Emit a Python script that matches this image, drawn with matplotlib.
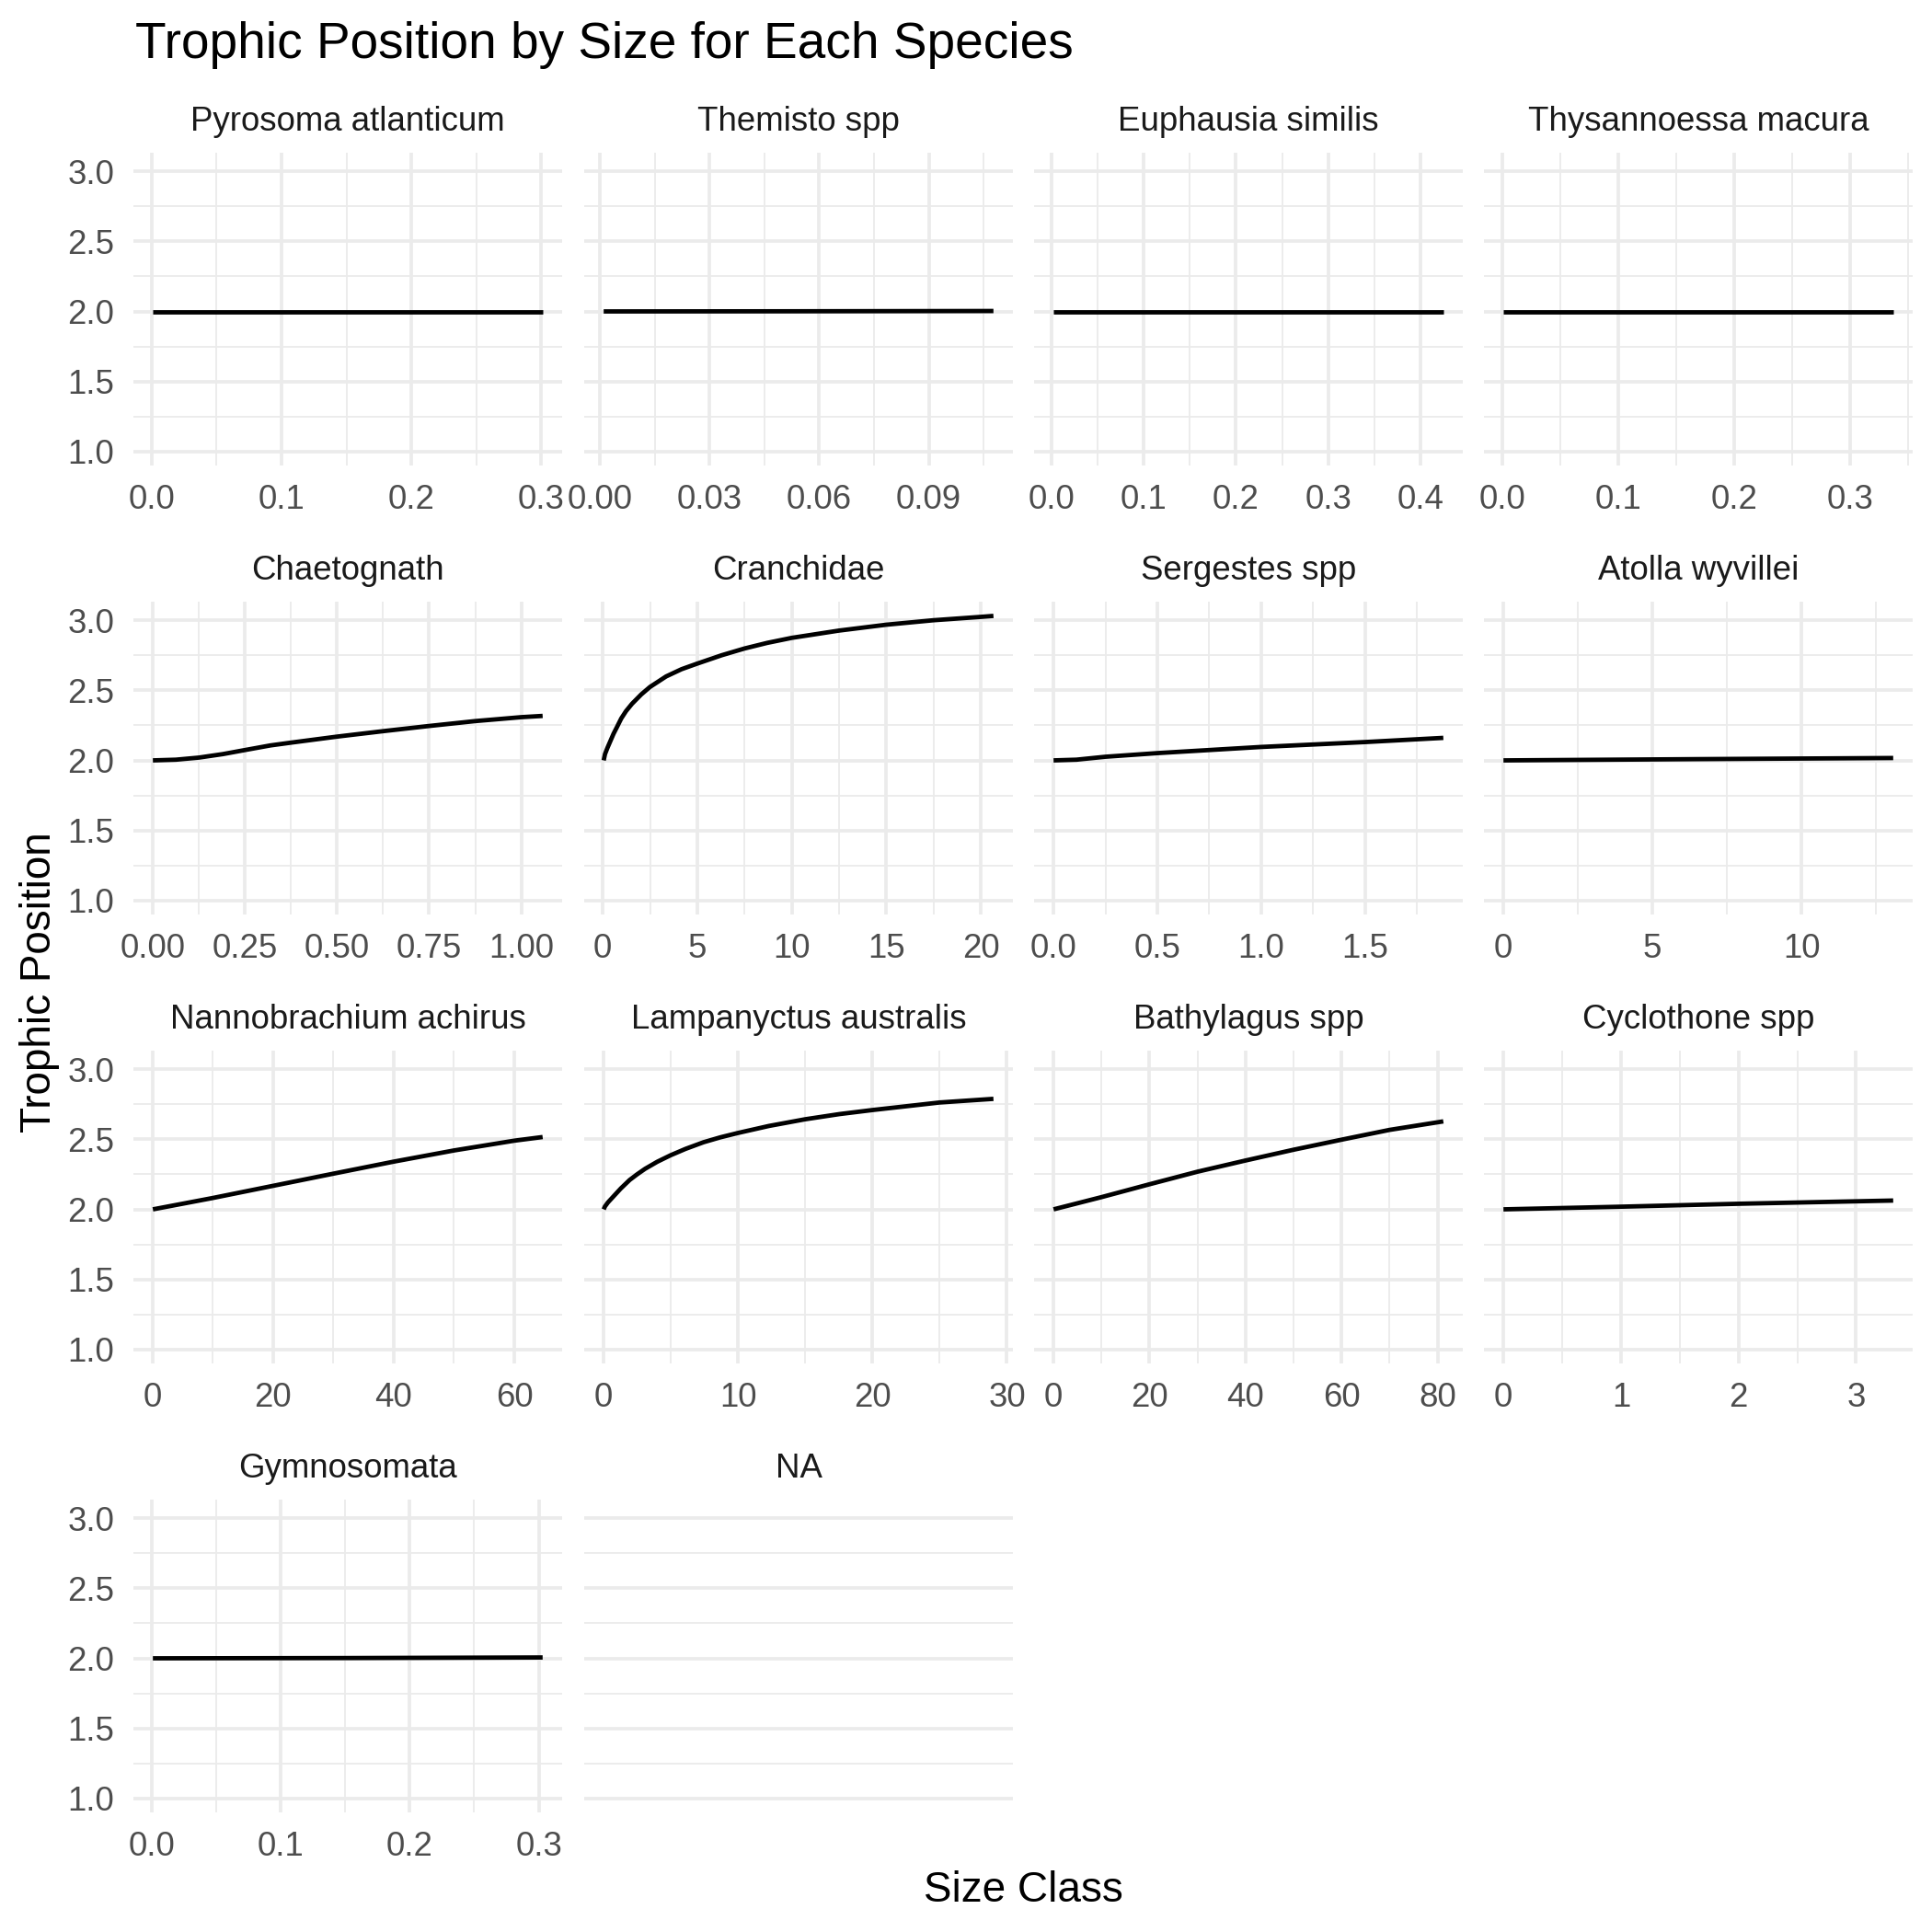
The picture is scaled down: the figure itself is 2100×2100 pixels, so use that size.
import matplotlib
matplotlib.use("Agg")
import matplotlib.pyplot as plt

plt.rcParams['font.family'] = ['Liberation Sans', 'DejaVu Sans']

# ---------------- data ----------------
species = ["Pyrosoma atlanticum", "Themisto spp", "Euphausia similis", "Thysannoessa macura",
           "Chaetognath", "Cranchidae", "Sergestes spp", "Atolla wyvillei",
           "Nannobrachium achirus", "Lampanyctus australis", "Bathylagus spp", "Cyclothone spp",
           "Gymnosomata", "NA"]

pyrosoma_x = [0.001, 0.1, 0.2, 0.301]
pyrosoma_y = [2.0, 2.0, 2.0, 2.0]
themisto_x = [0.001, 0.05, 0.1077]
themisto_y = [2.0, 2.001, 2.003]
euphausia_x = [0.002, 0.2, 0.425]
euphausia_y = [2.0, 2.0, 2.0]
thysanoessa_x = [0.001, 0.17, 0.3374]
thysanoessa_y = [2.0, 2.0, 2.0]
chaeto_x = [0.0, 0.0625, 0.125, 0.19, 0.25, 0.319, 0.375, 0.5, 0.625, 0.75, 0.875, 1.0, 1.058]
chaeto_y = [2.0, 2.005, 2.02, 2.045, 2.074, 2.107, 2.127, 2.17, 2.209, 2.246, 2.281, 2.309, 2.318]
cranch_x = [0.05, 0.12, 0.25, 0.41, 0.57, 0.74, 0.98, 1.23, 1.55, 2.04, 2.5, 3.35, 4.17, 5.0, 6.3,
            7.5, 8.7, 10.0, 12.5, 15.0, 17.5, 20.0, 20.67]
cranch_y = [2.0, 2.045, 2.09, 2.14, 2.19, 2.235, 2.30, 2.352, 2.405, 2.472, 2.525, 2.60, 2.652, 2.692,
            2.752, 2.80, 2.84, 2.876, 2.928, 2.97, 3.002, 3.026, 3.033]
serg_x = [0.0, 0.11, 0.25, 0.5, 1.0, 1.5, 1.878]
serg_y = [2.0, 2.005, 2.026, 2.052, 2.096, 2.131, 2.161]
atolla_x = [0.0, 6.5, 13.08]
atolla_y = [2.0, 2.009, 2.017]
nanno_x = [0.1, 10, 20, 30, 40, 50, 60, 64.7]
nanno_y = [2.0, 2.081, 2.168, 2.255, 2.341, 2.421, 2.491, 2.517]
lampa_x = [0.02, 0.11, 0.34, 0.8, 1.3, 1.95, 2.5, 3.1, 4.0, 5.0, 6.1, 7.45, 8.7, 10.0, 12.3, 15.0,
           17.55, 20.0, 22.6, 25.0, 29.0]
lampa_y = [2.0, 2.02, 2.05, 2.098, 2.15, 2.21, 2.25, 2.29, 2.34, 2.387, 2.432, 2.48, 2.515, 2.546,
           2.596, 2.644, 2.681, 2.71, 2.738, 2.764, 2.79]
bathy_x = [0.06, 10, 20, 30, 40, 50, 60, 70, 81.2]
bathy_y = [2.0, 2.087, 2.179, 2.269, 2.349, 2.426, 2.498, 2.568, 2.629]
cyclo_x = [0.0, 1.0, 2.0, 3.316]
cyclo_y = [2.0, 2.019, 2.040, 2.063]
gymno_x = [0.001, 0.15, 0.303]
gymno_y = [2.0, 2.002, 2.006]

series_x = [pyrosoma_x, themisto_x, euphausia_x, thysanoessa_x, chaeto_x, cranch_x, serg_x,
            atolla_x, nanno_x, lampa_x, bathy_x, cyclo_x, gymno_x, []]
series_y = [pyrosoma_y, themisto_y, euphausia_y, thysanoessa_y, chaeto_y, cranch_y, serg_y,
            atolla_y, nanno_y, lampa_y, bathy_y, cyclo_y, gymno_y, []]

x_major = [[0.0, 0.1, 0.2, 0.3], [0.0, 0.03, 0.06, 0.09], [0.0, 0.1, 0.2, 0.3, 0.4], [0.0, 0.1, 0.2, 0.3],
           [0.0, 0.25, 0.5, 0.75, 1.0], [0, 5, 10, 15, 20], [0.0, 0.5, 1.0, 1.5], [0, 5, 10],
           [0, 20, 40, 60], [0, 10, 20, 30], [0, 20, 40, 60, 80], [0, 1, 2, 3],
           [0.0, 0.1, 0.2, 0.3], []]
x_labels = [["0.0", "0.1", "0.2", "0.3"], ["0.00", "0.03", "0.06", "0.09"], ["0.0", "0.1", "0.2", "0.3", "0.4"],
            ["0.0", "0.1", "0.2", "0.3"], ["0.00", "0.25", "0.50", "0.75", "1.00"], ["0", "5", "10", "15", "20"],
            ["0.0", "0.5", "1.0", "1.5"], ["0", "5", "10"], ["0", "20", "40", "60"], ["0", "10", "20", "30"],
            ["0", "20", "40", "60", "80"], ["0", "1", "2", "3"], ["0.0", "0.1", "0.2", "0.3"], []]

y_major = [1.0, 1.5, 2.0, 2.5, 3.0]
y_labels = ["1.0", "1.5", "2.0", "2.5", "3.0"]
y_data_low = 1.0

title = "Trophic Position by Size for Each Species"
xlabel = "Size Class"
ylabel = "Trophic Position"

# ---------------- layout ----------------
W = H = 2100
fig = plt.figure(figsize=(7, 7), dpi=300)
fig.patch.set_facecolor('white')

col_left = [145, 635, 1124, 1613]
row_top = [166, 654, 1142, 1630]
pw, ph = 466, 340

grid_col = '#EBEBEB'
ymax_data = max(max(s) for s in series_y if len(s))
yr = ymax_data - y_data_low
ylim = (y_data_low - 0.05 * yr, ymax_data + 0.05 * yr)


def minors(major, lo, hi):
    if len(major) < 2:
        return []
    step = major[1] - major[0]
    out = []
    m = major[0] - step / 2
    while m <= hi:
        if m >= lo and all(abs(m - t) > 1e-9 for t in major):
            out.append(m)
        m += step
    return out


for i, name in enumerate(species):
    r, c = divmod(i, 4)
    l = col_left[c]
    t = row_top[r]
    ax = fig.add_axes([l / W, 1 - (t + ph) / H, pw / W, ph / H])
    ax.set_facecolor('white')
    for s in ax.spines.values():
        s.set_visible(False)
    ax.set_axisbelow(True)

    xs, ys = series_x[i], series_y[i]
    if len(xs):
        xr = max(xs) - min(xs)
        xlim = (min(xs) - 0.05 * xr, max(xs) + 0.05 * xr)
        ax.plot(xs, ys, color='black', lw=1.15, solid_capstyle='butt', solid_joinstyle='round', zorder=3)
    else:
        xlim = (0, 1)
    ax.set_xlim(xlim)
    ax.set_ylim(ylim)

    ax.set_xticks(x_major[i])
    ax.set_xticklabels(x_labels[i])
    ax.set_xticks(minors(x_major[i], *xlim), minor=True)
    ax.set_yticks(y_major)
    ax.set_yticks(minors(y_major, *ylim), minor=True)
    if c == 0:
        ax.set_yticklabels(y_labels)
    else:
        ax.set_yticklabels([])

    ax.grid(which='major', color=grid_col, lw=0.9)
    ax.grid(which='minor', color=grid_col, lw=0.45)
    ax.tick_params(axis='both', which='both', length=0, labelsize=8.8, labelcolor='#4D4D4D')
    ax.tick_params(axis='x', pad=4.8)
    ax.tick_params(axis='y', pad=5.0)

    ax.text(0.5, 1 + 24 / ph, name, transform=ax.transAxes, ha='center', va='baseline',
            fontsize=8.8, color='#1A1A1A')

fig.text(147 / W, 1 - 63 / H, title, ha='left', va='baseline', fontsize=13.2, color='black')
fig.text(1112 / W, 1 - 2067 / H, xlabel, ha='center', va='baseline', fontsize=11, color='black')
fig.text(43 / W, 1 - 1068 / H, ylabel, ha='center', va='center', rotation=90, fontsize=11, color='black')

fig.savefig('out.png', dpi=300, facecolor='white')
